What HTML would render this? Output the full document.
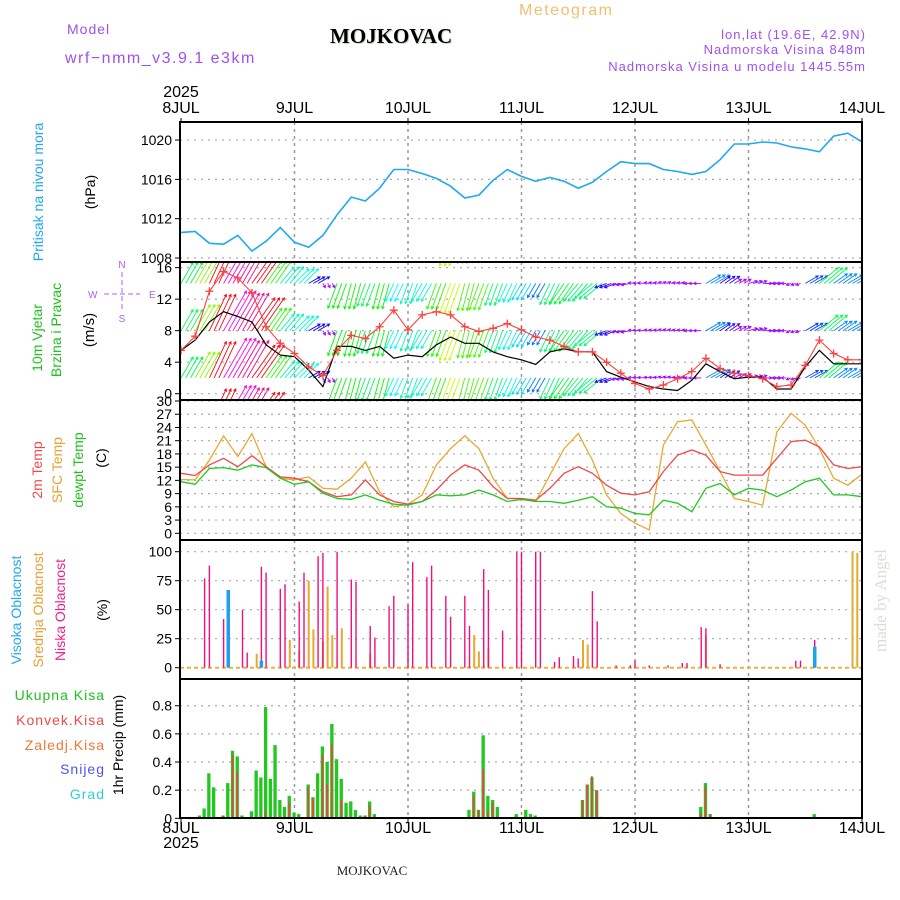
<!DOCTYPE html>
<html><head><meta charset="utf-8"><style>
html,body{margin:0;padding:0;background:#fff;width:900px;height:900px;overflow:hidden}
svg text{font-family:"Liberation Sans",sans-serif}
</style></head><body>
<svg id="chart" width="900" height="900" viewBox="0 0 900 900" xmlns="http://www.w3.org/2000/svg">
<g>
<text x="67" y="34" font-size="14" fill="#a050f0" letter-spacing="1">Model</text>
<text x="65" y="63" font-size="16" fill="#a050f0" letter-spacing="1.5">wrf−nmm_v3.9.1 e3km</text>
<text x="331" y="44" font-size="21" font-weight="bold" fill="#c8dcc8" style="font-family:'Liberation Serif',serif">MOJKOVAC</text>
<text x="330" y="43" font-size="21" font-weight="bold" fill="#000" style="font-family:'Liberation Serif',serif">MOJKOVAC</text>
<text x="519" y="15" font-size="16" fill="#f0c070" letter-spacing="1.5">Meteogram</text>
<text x="866" y="39" font-size="13" fill="#a050f0" text-anchor="end" letter-spacing="1">lon,lat (19.6E, 42.9N)</text>
<text x="866" y="54" font-size="13" fill="#a050f0" text-anchor="end" letter-spacing="1">Nadmorska Visina 848m</text>
<text x="866" y="71" font-size="13" fill="#a050f0" text-anchor="end" letter-spacing="1">Nadmorska Visina u modelu 1445.55m</text>
<text x="181" y="97" font-size="16" text-anchor="middle">2025</text>
<text x="181" y="848" font-size="16" text-anchor="middle">2025</text>
<text x="372" y="875" font-size="13" style="font-family:'Liberation Serif',serif" fill="#222" text-anchor="middle">MOJKOVAC</text>
<text transform="translate(886,652) rotate(-90)" font-size="17" fill="#d8e0d4" style="font-family:'Liberation Serif',serif">made by Angel</text>
</g>
<g>
<text transform="translate(43,192) rotate(-90)" font-size="14" fill="#20a8f0" text-anchor="middle">Pritisak na nivou mora</text>
<text transform="translate(95,192) rotate(-90)" font-size="14" text-anchor="middle">(hPa)</text>
<text transform="translate(42,338) rotate(-90)" font-size="14" fill="#20c020" text-anchor="middle">10m Vjetar</text>
<text transform="translate(61,330) rotate(-90)" font-size="14" fill="#20c020" text-anchor="middle">Brzina i Pravac</text>
<text transform="translate(94,330) rotate(-90)" font-size="15" text-anchor="middle">(m/s)</text>
<g fill="#b060f0" font-size="10">
<text x="122" y="268" text-anchor="middle">N</text><text x="88" y="298">W</text><text x="149" y="298">E</text><text x="122" y="322" text-anchor="middle">S</text>
<line x1="104" y1="294" x2="140" y2="294" stroke="#b060f0" stroke-width="1" stroke-dasharray="5,3"/>
<line x1="122" y1="272" x2="122" y2="312" stroke="#b060f0" stroke-width="1" stroke-dasharray="5,3"/>
</g>
<text transform="translate(42,470) rotate(-90)" font-size="14" fill="#f04848" text-anchor="middle">2m Temp</text>
<text transform="translate(62,470) rotate(-90)" font-size="14" fill="#e8a030" text-anchor="middle">SFC Temp</text>
<text transform="translate(83,470) rotate(-90)" font-size="14" fill="#20c020" text-anchor="middle">dewpt Temp</text>
<text transform="translate(106,458) rotate(-90)" font-size="14" text-anchor="middle">(C)</text>
<text transform="translate(21,610) rotate(-90)" font-size="14" fill="#20a8f0" text-anchor="middle">Visoka Oblacnost</text>
<text transform="translate(43,610) rotate(-90)" font-size="14" fill="#e8a030" text-anchor="middle">Srednja Oblacnost</text>
<text transform="translate(65,610) rotate(-90)" font-size="14" fill="#f0208c" text-anchor="middle">Niska Oblacnost</text>
<text transform="translate(107,610) rotate(-90)" font-size="14" text-anchor="middle">(%)</text>
<text x="105" y="700" font-size="14" fill="#20c020" text-anchor="end" letter-spacing="1">Ukupna  Kisa</text>
<text x="105" y="725" font-size="14" fill="#f04848" text-anchor="end" letter-spacing="1">Konvek.Kisa</text>
<text x="105" y="750" font-size="14" fill="#f07830" text-anchor="end" letter-spacing="1">Zaledj.Kisa</text>
<text x="105" y="774" font-size="14" fill="#5050f0" text-anchor="end" letter-spacing="1">Snijeg</text>
<text x="105" y="799" font-size="14" fill="#30d0d0" text-anchor="end" letter-spacing="1">Grad</text>
<text transform="translate(123,745) rotate(-90)" font-size="14" text-anchor="middle">1hr Precip (mm)</text>
</g>
</svg>
<script>
const days=['8JUL','9JUL','10JUL','11JUL','12JUL','13JUL','14JUL'];
const pressure=[1010.6,1010.7,1009.5,1009.4,1010.3,1008.7,1009.7,1011.1,1009.6,1009.1,1010.3,1012.4,1014.2,1013.8,1015.1,1017.0,1017.0,1016.6,1016.1,1015.3,1014.1,1014.4,1015.9,1017.0,1016.3,1015.8,1016.2,1015.8,1015.1,1015.7,1016.8,1017.8,1017.6,1017.6,1017.0,1016.8,1016.5,1016.8,1018.0,1019.6,1019.6,1019.8,1019.7,1019.3,1019.1,1018.8,1020.4,1020.7,1019.8];
const windSpeed=[5.5,6.8,9.1,10.4,9.8,9.1,6.2,4.9,4.7,3.0,0.9,6.0,6.0,5.5,6.0,4.5,4.9,4.7,6.2,7.2,6.4,6.4,5.3,4.7,4.3,3.7,5.3,5.7,5.3,5.3,2.8,2.1,1.5,0.9,0.6,0.4,1.7,3.8,2.8,1.9,2.1,2.1,0.6,0.6,3.4,5.5,3.8,3.8,3.8];
const windGust=[5.5,7.3,13.0,15.5,14.7,12.8,8.5,6.4,5.1,3.4,2.3,5.5,7.4,7.0,8.5,10.6,8.1,10.0,10.4,10.0,8.5,7.9,8.3,8.9,8.1,7.2,6.8,6.0,5.3,5.3,4.0,2.6,1.3,0.6,1.1,1.9,2.8,4.5,3.2,2.6,2.3,1.9,0.9,1.1,3.6,6.8,5.1,4.3,4.3];
const windDir=[30,30,25,30,30,35,35,40,45,60,150,200,195,200,195,205,200,210,200,200,195,200,200,205,210,210,205,215,220,230,250,260,275,280,285,280,270,60,55,60,75,90,270,250,60,50,55,60,60];
const temp2m=[13.6,13.1,15.5,17.0,15.1,17.6,15.1,12.8,12.5,11.7,9.4,8.3,8.7,12.1,8.7,7.2,6.6,7.2,9.8,13.2,15.5,14.3,10.6,7.9,7.9,7.5,10.2,13.6,15.1,13.6,10.9,9.1,8.7,9.4,14.0,17.7,18.9,17.7,14.0,13.2,13.2,13.2,17.0,20.8,21.1,19.6,15.5,14.7,15.1];
const tempSfc=[12.2,12.1,16.6,22.1,17.4,22.6,15.1,12.5,12.1,12.8,10.2,10.0,12.5,16.2,9.4,6.0,6.6,8.7,15.5,19.2,22.1,19.2,12.5,7.9,7.9,7.2,13.2,19.2,22.6,16.6,8.7,4.5,2.3,0.8,20.0,25.3,25.7,20.0,14.0,7.9,7.2,6.4,23.0,27.2,24.5,19.2,12.5,10.9,13.4];
const dewpt=[11.7,11.1,14.7,14.9,14.3,15.5,14.9,12.5,11.1,11.7,9.1,7.9,7.7,8.7,7.5,6.6,6.4,7.2,8.7,8.5,8.7,9.8,8.7,7.2,7.7,7.2,7.2,6.8,7.5,8.3,6.0,5.7,4.5,4.2,7.5,6.8,4.9,10.2,11.3,8.7,10.2,9.8,8.3,9.8,11.7,12.5,8.7,8.7,8.3];
const lowHours=[5,6,9,10,13,14,17,18,21,22,25,26,29,30,33,36,37,40,41,44,45,48,49,52,53,56,57,60,61,64,65,68,71,72,75,76,79,80,83,84,87,88,92,95,96,99,103,106,107,110,111,114,130,131,134];
const lowCloud=[77,88,42,59,50,13,87,82,68,72,57,82,96,99,100,76,74,36,26,53,62,54,91,78,88,62,44,62,36,85,67,32,100,100,100,100,5,9,10,8,66,40,2,2,6,2,2,4,4,35,34,3,6,6,24];
const midHours=[16,23,25,27,28,30,31,32,34,40,62,63,65,85,86,111,142,143];
const midCloud=[12,24,15,75,33,23,70,28,34,12,28,14,17,24,20,28,100,99];
const highHours=[10,17,134];
const highCloud=[67,6,18];
const rainHours=[3,4,5,6,7,8,9,10,11,12,13,15,16,17,18,19,20,21,22,23,24,25,26,27,28,29,30,31,32,33,34,35,36,37,38,39,40,41,61,62,63,64,65,66,67,71,72,73,74,75,76,85,86,87,88,89,110,111,112,113,134];
const rainTotal=[0.005,0.02,0.07,0.32,0.22,0.01,0.02,0.25,0.48,0.44,0.02,0.05,0.34,0.29,0.79,0.28,0.52,0.13,0.08,0.16,0.04,0.03,0.005,0.24,0.15,0.32,0.51,0.40,0.67,0.42,0.28,0.11,0.12,0.06,0.02,0.02,0.12,0.03,0.06,0.19,0.06,0.59,0.16,0.13,0.08,0.03,0.005,0.06,0.03,0.02,0.005,0.13,0.24,0.29,0.2,0.01,0.08,0.25,0.03,0.005,0.03];
const convHours=[9,11,12,16,18,19,22,23,27,28,30,31,32,34,39,40,41,62,63,64,65,66,67,85,86,87,88,89,110,111,112];
const convRain=[0.02,0.45,0.33,0.005,0.05,0.005,0.02,0.11,0.22,0.14,0.45,0.24,0.53,0.13,0.02,0.09,0.01,0.16,0.06,0.35,0.05,0.11,0.02,0.13,0.24,0.30,0.2,0.01,0.03,0.22,0.03];
const pTicks=[1008,1012,1016,1020];
const wTicks=[0,4,8,12,16];
const tTicks=[0,3,6,9,12,15,18,21,24,27,30];
const cTicks=[0,25,50,75,100];
const rTicks=[0,0.2,0.4,0.6,0.8];
const arrowBases=[-4,2,8,14,20];

const NS='http://www.w3.org/2000/svg';
const svg=document.getElementById('chart');
const L=180,R=862;
const X=h=>181+h*113.5/24;
const Yp=p=>258-(p-1008)*9.83;
const Yw=v=>393.7-v*7.88;
const Yt=t=>533.3-t*4.41;
const Yc=c=>667.7-c*1.16;
const Yr=m=>818.3-m*140.7;
function mk(tag,at,parent){const e=document.createElementNS(NS,tag);for(const k in at)e.setAttribute(k,at[k]);(parent||svg).appendChild(e);return e;}
const defs=mk('defs',{});
const panels=[['pressure',122,262,Yp,pTicks],['wind',262,400,Yw,wTicks],['temp',400,540,Yt,tTicks],['cloud',540,679,Yc,cTicks],['precip',679,818,Yr,rTicks]];
panels.forEach(([n,t,b,yf,ticks])=>{
  const cp=mk('clipPath',{id:'clip-'+n},defs);mk('rect',{x:L,y:t,width:R-L,height:b-t},cp);
  const g=mk('g',{});
  
  
  ticks.forEach(v=>{
    const y=yf(v);
    const gl=mk('line',{x1:L,x2:R,y1:y,y2:y,stroke:'#aaa','stroke-width':1.2,'stroke-dasharray':'2,5'},g);
    
    
    const tk=mk('line',{x1:L-5,x2:L,y1:y,y2:y,stroke:'#000','stroke-width':1},g);
    
    
    const tx=mk('text',{x:L-8,y:y+5,'font-size':14,'text-anchor':'end'},g);
    tx.textContent=String(v);
    
    
  });
  for(let d=1;d<6;d++){const x=X(d*24);
    const vl=mk('line',{x1:x,x2:x,y1:t,y2:b,stroke:'#999','stroke-width':1.5,'stroke-dasharray':'3,4'},g);
    
    }
});
days.forEach((d,i)=>{
  const x=X(i*24);
  const a=mk('text',{x:x,y:113,'font-size':16,'text-anchor':'middle'});a.textContent=d;
  
  
  const b=mk('text',{x:x,y:833,'font-size':16,'text-anchor':'middle'});b.textContent=d;
  
  
  mk('line',{x1:x,x2:x,y1:118,y2:122,stroke:'#000'});
  mk('line',{x1:x,x2:x,y1:818,y2:823,stroke:'#000'});
});
const hrs=pressure.map((_,k)=>k*3);
function line(arr,yf,color,name,clip,w){
  const p=mk('polyline',{points:arr.map((v,k)=>X(hrs[k]).toFixed(1)+','+yf(v).toFixed(1)).join(' '),fill:'none',stroke:color,'stroke-width':w||1.5,'clip-path':'url(#clip-'+clip+')'});
  
  
  return p;
}
line(pressure,Yp,'#20a8f0','pressure-line','pressure',1.6);
// wind arrows
const ag=mk('g',{'clip-path':'url(#clip-wind)'});


windDir.forEach((dir,k)=>{
  const s=windSpeed[k];
  let hue=s<2?280:(280-(s-2)*40+360)%360;
  const col='hsl('+hue+',95%,50%)';
  const len=Math.max(4.4*s,5);
  const th=dir*Math.PI/180;
  const dx=len*Math.sin(th),dy=-len*Math.cos(th);
  for(let j=0;j<3;j++){
    const h=hrs[k]+j;if(h>144)break;
    arrowBases.forEach(b=>{
      const x0=X(h),y0=Yw(b),x1=x0+dx,y1=y0+dy;
      const ang=Math.atan2(dy,dx);
      const hx1=x1-3*Math.cos(ang-0.5),hy1=y1-3*Math.sin(ang-0.5);
      const hx2=x1-3*Math.cos(ang+0.5),hy2=y1-3*Math.sin(ang+0.5);
      const a=mk('path',{d:`M${x0.toFixed(1)},${y0.toFixed(1)}L${x1.toFixed(1)},${y1.toFixed(1)}M${hx1.toFixed(1)},${hy1.toFixed(1)}L${x1.toFixed(1)},${y1.toFixed(1)}L${hx2.toFixed(1)},${hy2.toFixed(1)}`,stroke:col,'stroke-width':0.9,fill:'none'},ag);
      
      
    });
  }
});
line(windSpeed,Yw,'#000','wind-speed-line','wind',1.2);
line(windGust,Yw,'#ff4040','wind-gust-line','wind',1.1);
const gm=mk('g',{'clip-path':'url(#clip-wind)',stroke:'#ff4040','stroke-width':1.3});


windGust.forEach((v,k)=>{const x=X(hrs[k]),y=Yw(v);
  const m=mk('path',{d:`M${x-4},${y}H${x+4}M${x},${y-4}V${y+4}`},gm);
  
  });
line(tempSfc,Yt,'#e8a830','sfc-temp-line','temp',1.3);
line(temp2m,Yt,'#f04848','temp-2m-line','temp',1.3);
line(dewpt,Yt,'#20c820','dewpt-line','temp',1.3);
// cloud
const cb=mk('line',{x1:L,x2:R,y1:Yc(0),y2:Yc(0),stroke:'#f0b040','stroke-width':2,'stroke-dasharray':'4,3'});


function bars(hs,vs,yf,color,w,name,off){
  vs.forEach((v,i)=>{const x=X(hs[i])+(off||0);const y=yf(v);const y0=yf(0);
    const r=mk('rect',{x:(x-w/2).toFixed(1),y:y.toFixed(1),width:w,height:Math.max(y0-y,0.5).toFixed(1),fill:color});
    
    });
}
bars(midHours,midCloud,Yc,'#e8a830',2,'mid-cloud-bar',0);
bars(lowHours,lowCloud,Yc,'#f0107c',1.4,'low-cloud-bar',0);
bars(highHours,highCloud,Yc,'#20a0f0',3.5,'high-cloud-bar',0);
bars(rainHours,rainTotal,Yr,'#20c820',3.3,'total-rain-bar',-0.5);
bars(convHours,convRain,Yr,'#f04040',1.6,'convective-rain-bar',-0.5);
// panel frames
panels.forEach(([n,t,b])=>{const f=mk('rect',{x:L,y:t,width:R-L,height:b-t,fill:'none',stroke:'#000','stroke-width':2});
  
  });
</script>
</body></html>
